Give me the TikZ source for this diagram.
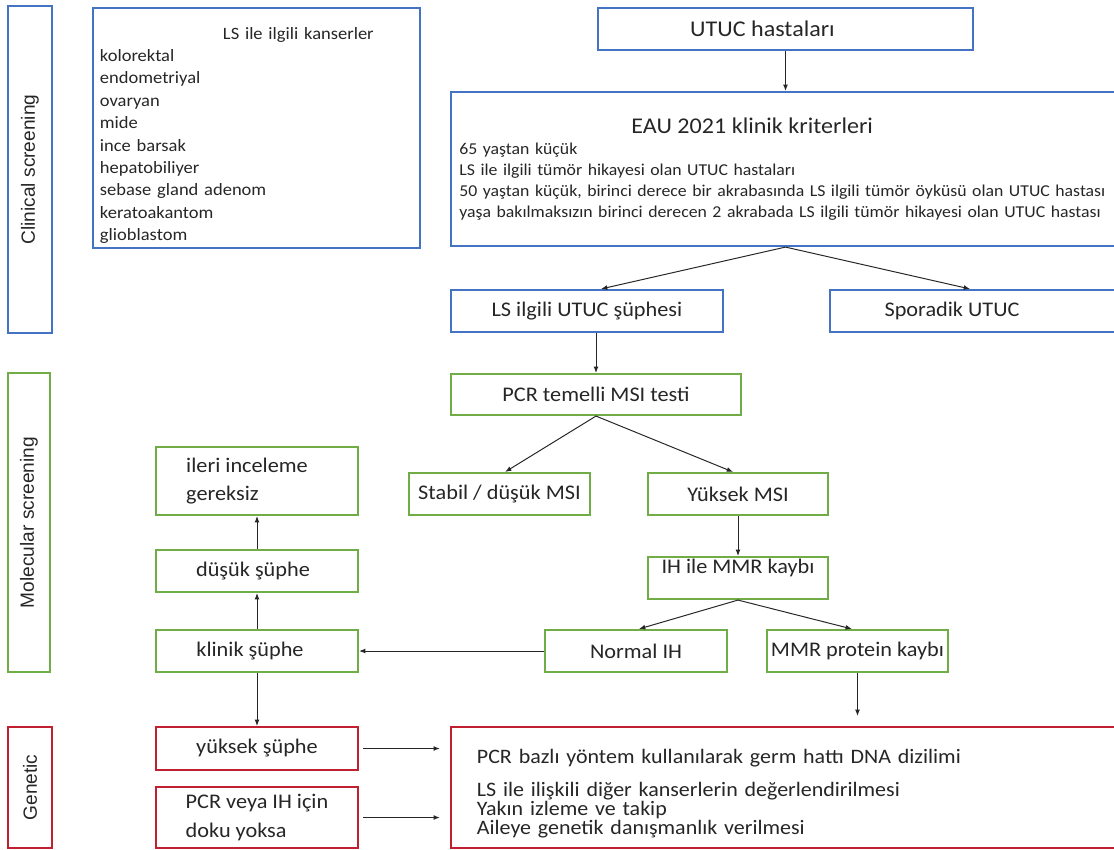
\documentclass[tikz,border=0pt]{standalone}
\usepackage{fontspec}
\setmainfont{Carlito}[FakeStretch=1.07]
\newfontfamily\sidefont{Liberation Sans}
\usetikzlibrary{arrows.meta}
\definecolor{boxblue}{RGB}{68,114,196}
\definecolor{boxgreen}{RGB}{112,173,71}
\definecolor{boxred}{RGB}{192,32,48}
\tikzset{
  base/.style={draw, rectangle, line width=1.5pt, inner sep=0pt, text=black!85, font=\fontsize{14.8}{20}\selectfont},
  bluebox/.style={base, draw=boxblue},
  greenbox/.style={base, draw=boxgreen},
  redbox/.style={base, draw=boxred},
  side/.style={rotate=90, font=\sidefont\fontsize{13.6}{16}\selectfont},
  arr/.style={-{Latex[length=4.5pt,width=3.5pt]}, line width=0.7pt, black!85},
}
\begin{document}
\begin{tikzpicture}[x=0.025cm, y=-0.025cm]
\useasboundingbox (0,0) rectangle (1114,850);
\node[bluebox, side, minimum width=8.175cm, minimum height=1.1cm] (clin) at (30,169.5) {Clinical screening};
\node[greenbox, side, minimum width=7.475cm, minimum height=1.05cm] (mol) at (29,522.5) {Molecular screening};
\node[redbox, side, minimum width=3.025cm, minimum height=1.1cm] (gen) at (30,787.5) {Genetic};

\node[bluebox, minimum width=8.175cm, minimum height=6cm, text width=7.825cm, text height=19pt, align=left, font=\fontsize{12.3}{15.9}\selectfont] (canc) at (256.5,128) {\hspace*{3.075cm}LS ile ilgili kanserler\\kolorektal\\endometriyal\\ovaryan\\mide\\ince barsak\\hepatobiliyer\\sebase gland adenom\\keratoakantom\\glioblastom};
\node[bluebox, minimum width=9.375cm, minimum height=1.05cm, font=\fontsize{16}{20}\selectfont] (utuc) at (785.5,29) {UTUC hastaları\hspace*{1.15cm}};
\node[bluebox, minimum width=16.725cm, minimum height=3.85cm, text width=16.3cm, align=left, font=\fontsize{11.8}{15}\selectfont] (eau) at (785.5,169) {\hspace*{4.3cm}{\fontsize{16}{20}\selectfont EAU 2021 klinik kriterleri}\\65 yaştan küçük\\LS ile ilgili tümör hikayesi olan UTUC hastaları\\50 yaştan küçük, birinci derece bir akrabasında LS ilgili tümör öyküsü olan UTUC hastası\\yaşa bakılmaksızın birinci derecen 2 akrabada LS ilgili tümör hikayesi olan UTUC hastası};
\node[bluebox, minimum width=6.8cm, minimum height=1.05cm] (lsutuc) at (587,311) {LS ilgili UTUC şüphesi};
\node[bluebox, minimum width=7.3cm, minimum height=1.05cm] (spor) at (976,311) {Sporadik UTUC\hspace*{1.2cm}};

\node[greenbox, minimum width=7.25cm, minimum height=1.025cm] (pcr) at (596,394.5) {PCR temelli MSI testi};
\node[greenbox, minimum width=4.525cm, minimum height=1.05cm] (stabil) at (499.5,494) {Stabil / düşük MSI};
\node[greenbox, minimum width=4.5cm, minimum height=1.05cm] (ymsi) at (738,494) {Yüksek MSI};
\node[greenbox, minimum width=4.5cm, minimum height=1.05cm, text depth=17pt] (ihmmr) at (738,578) {IH ile MMR kaybı};
\node[greenbox, minimum width=4.55cm, minimum height=1.05cm] (normal) at (636,651) {Normal IH};
\node[greenbox, minimum width=4.525cm, minimum height=1.05cm] (mmr) at (857.5,651) {MMR protein kaybı};
\node[greenbox, minimum width=5.05cm, minimum height=1.05cm] (klinik) at (257,651) {klinik şüphe\hspace*{0.35cm}};
\node[greenbox, minimum width=5.05cm, minimum height=1.05cm] (dusuk) at (257,571) {düşük şüphe\hspace*{0.2cm}};
\node[greenbox, minimum width=5.05cm, minimum height=1.7cm, align=left] (ileri) at (257,481) {ileri inceleme\hspace*{0.5cm}\\gereksiz};

\node[redbox, minimum width=5.05cm, minimum height=1.075cm] (ysup) at (257,748.5) {yüksek şüphe};
\node[redbox, minimum width=5.05cm, minimum height=1.525cm, align=left] (doku) at (257,817.5) {PCR veya IH için\\doku yoksa};
\node[redbox, minimum width=16.775cm, minimum height=3.025cm, text width=15.475cm, text height=19pt, align=left, font=\fontsize{14.6}{13.4}\selectfont] (germ) at (786.5,787.5) {\lineskiplimit=-100pt\relax PCR bazlı yöntem kullanılarak germ hattı DNA dizilimi\\[10pt]LS ile ilişkili diğer kanserlerin değerlendirilmesi\\Yakın izleme ve takip\\Aileye genetik danışmanlık verilmesi};

\draw[arr] (utuc) -- (eau);
\draw[arr] (eau.south) -- ([xshift=0.35cm]lsutuc.north);
\draw[arr] (eau.south) -- ([xshift=-0.15cm]spor.north);
\draw[arr] (pcr.north |- lsutuc.south) -- (pcr.north);
\draw[arr] (pcr.south) -- ([xshift=0.14cm]stabil.north);
\draw[arr] (pcr.south) -- ([xshift=-0.125cm]ymsi.north);
\draw[arr] (ymsi) -- (ihmmr);
\draw[arr] (ihmmr.south) -- ([xshift=0.075cm]normal.north);
\draw[arr] (ihmmr.south) -- ([xshift=-0.14cm]mmr.north);
\draw[arr] (normal) -- (klinik);
\draw[arr] (klinik) -- (dusuk);
\draw[arr] (dusuk) -- (ileri);
\draw[arr] (klinik) -- (ysup);
\draw[arr, shorten >=0.25cm] (mmr.south) -- (mmr.south |- germ.north);
\draw[arr, shorten <=0.1cm, shorten >=0.25cm] (ysup.east) -- (ysup.east -| germ.west);
\draw[arr, shorten <=0.1cm, shorten >=0.25cm] (doku.east) -- (doku.east -| germ.west);
\end{tikzpicture}
\end{document}
